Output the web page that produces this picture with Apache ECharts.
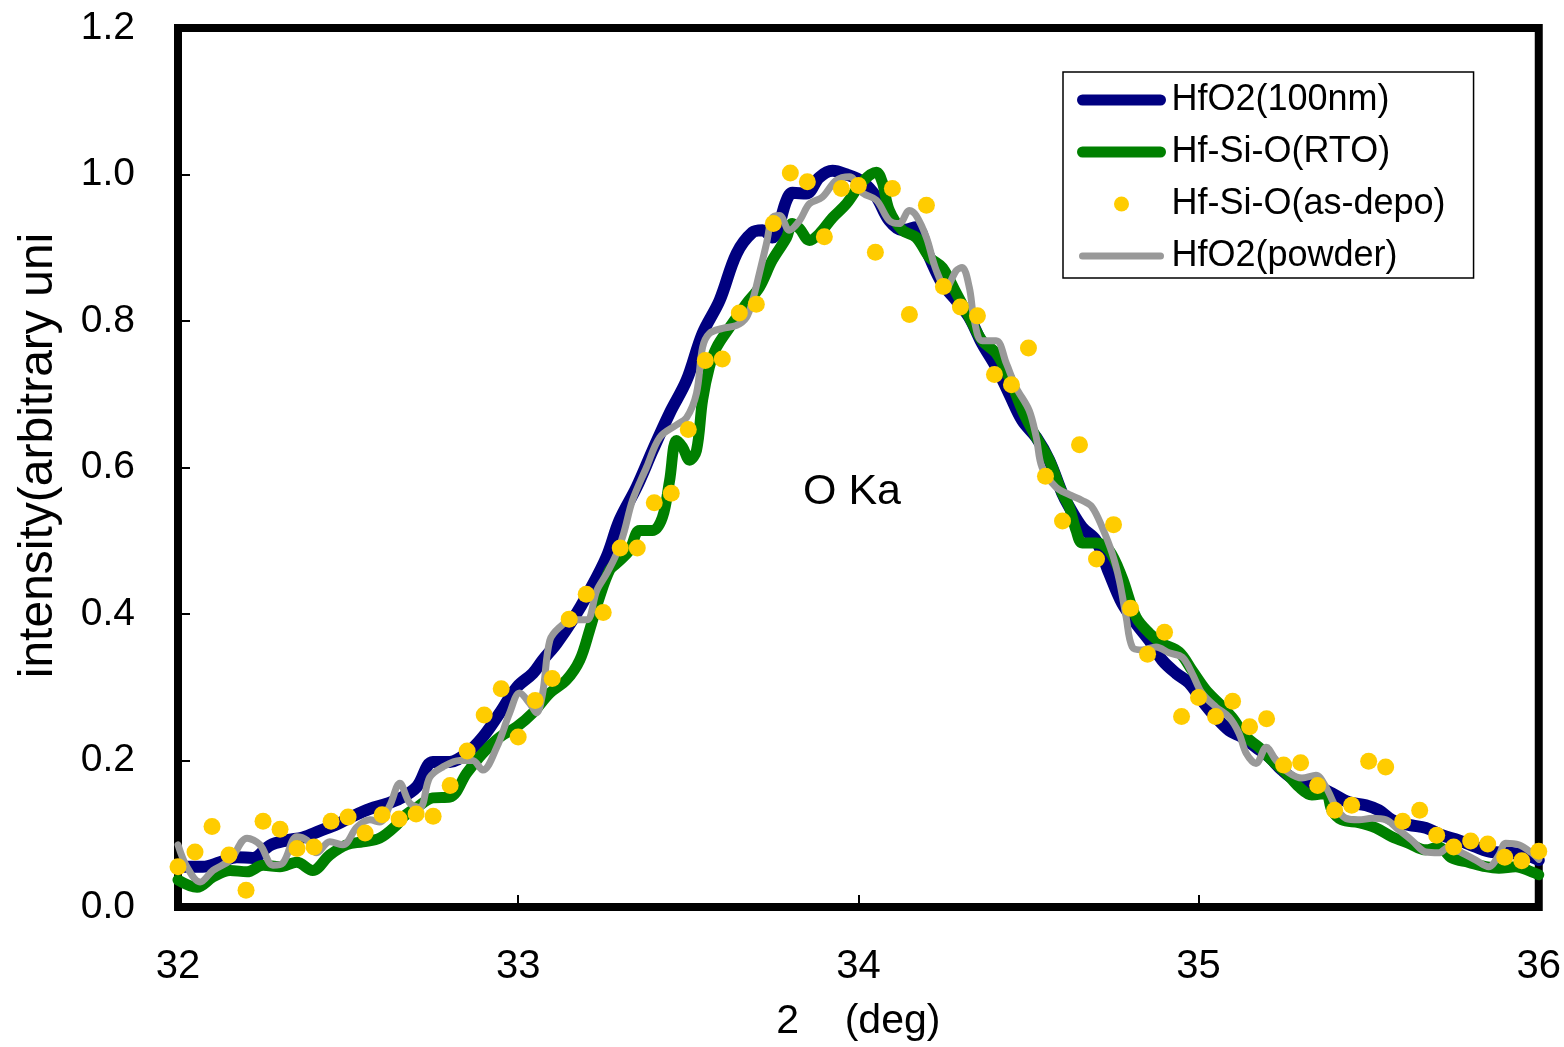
<!DOCTYPE html>
<html>
<head>
<meta charset="utf-8">
<script src="https://cdn.jsdelivr.net/npm/echarts@6/dist/echarts.min.js"></script>
<style>
html,body{margin:0;padding:0;background:#fff;}
#chart{width:1564px;height:1047px;}
</style>
</head>
<body>
<div id="chart"></div>
<script>
// ---- data ----
const seriesNames = ['HfO2(100nm)', 'Hf-Si-O(RTO)', 'Hf-Si-O(as-depo)', 'HfO2(powder)'];

const hfo2Film = [
[32.000,0.055],[32.073,0.055],[32.123,0.061],[32.173,0.068],[32.220,0.067],[32.270,0.084],[32.320,0.091],
[32.367,0.095],[32.417,0.104],[32.467,0.113],[32.514,0.124],[32.564,0.134],[32.614,0.141],[32.652,0.148],
[32.702,0.164],[32.749,0.198],[32.799,0.198],[32.849,0.210],[32.896,0.232],[32.946,0.265],[32.996,0.300],
[33.043,0.319],[33.072,0.337],[33.113,0.360],[33.160,0.392],[33.210,0.432],[33.260,0.478],[33.298,0.528],
[33.348,0.573],[33.395,0.623],[33.445,0.674],[33.495,0.719],[33.542,0.783],[33.592,0.828],[33.642,0.892],
[33.689,0.921],[33.718,0.924],[33.747,0.914],[33.789,0.965],[33.806,0.975],[33.847,0.974],[33.885,0.996],
[33.924,1.005],[33.965,1.000],[34.012,0.990],[34.053,0.969],[34.091,0.937],[34.129,0.924],[34.170,0.928],
[34.209,0.887],[34.247,0.851],[34.288,0.828],[34.326,0.805],[34.364,0.769],[34.405,0.737],[34.443,0.701],
[34.482,0.664],[34.523,0.641],[34.561,0.610],[34.599,0.565],[34.620,0.546],[34.658,0.518],[34.699,0.500],
[34.737,0.456],[34.775,0.415],[34.816,0.387],[34.855,0.364],[34.893,0.337],[34.934,0.319],[34.972,0.306],
[35.010,0.282],[35.051,0.259],[35.090,0.241],[35.128,0.232],[35.169,0.218],[35.207,0.205],[35.245,0.187],
[35.286,0.173],[35.345,0.166],[35.392,0.155],[35.442,0.143],[35.492,0.139],[35.530,0.132],[35.568,0.119],
[35.618,0.112],[35.668,0.108],[35.715,0.098],[35.765,0.091],[35.815,0.082],[35.862,0.075],[35.912,0.074],
[35.962,0.071],[36.000,0.064]
];

const hfSiORto = [
[32.000,0.037],[32.056,0.027],[32.103,0.041],[32.153,0.050],[32.203,0.048],[32.250,0.057],[32.300,0.055],
[32.349,0.061],[32.396,0.050],[32.446,0.071],[32.496,0.085],[32.543,0.089],[32.593,0.094],[32.643,0.112],
[32.665,0.124],[32.702,0.136],[32.749,0.149],[32.799,0.150],[32.849,0.183],[32.896,0.210],[32.946,0.232],
[32.996,0.246],[33.043,0.265],[33.093,0.292],[33.142,0.310],[33.181,0.337],[33.210,0.378],[33.239,0.423],
[33.269,0.460],[33.289,0.469],[33.327,0.487],[33.357,0.514],[33.395,0.514],[33.424,0.532],[33.445,0.582],
[33.465,0.637],[33.483,0.628],[33.504,0.610],[33.524,0.623],[33.542,0.692],[33.562,0.737],[33.583,0.764],
[33.621,0.791],[33.671,0.824],[33.709,0.846],[33.747,0.883],[33.789,0.914],[33.806,0.933],[33.827,0.926],
[33.856,0.910],[33.885,0.919],[33.924,0.941],[33.965,0.960],[34.012,0.990],[34.053,1.003],[34.070,0.990],
[34.091,0.951],[34.129,0.924],[34.170,0.914],[34.209,0.887],[34.247,0.873],[34.288,0.838],[34.326,0.805],
[34.364,0.773],[34.405,0.756],[34.443,0.723],[34.482,0.678],[34.523,0.641],[34.561,0.610],[34.599,0.565],
[34.620,0.546],[34.640,0.514],[34.658,0.497],[34.699,0.497],[34.737,0.487],[34.775,0.450],[34.816,0.396],
[34.855,0.374],[34.893,0.360],[34.943,0.348],[34.981,0.323],[35.022,0.296],[35.060,0.278],[35.098,0.259],
[35.140,0.232],[35.178,0.218],[35.216,0.200],[35.257,0.183],[35.295,0.164],[35.333,0.153],[35.374,0.155],
[35.392,0.132],[35.421,0.119],[35.471,0.115],[35.521,0.108],[35.568,0.096],[35.618,0.087],[35.668,0.078],
[35.706,0.082],[35.744,0.067],[35.794,0.061],[35.844,0.055],[35.883,0.053],[35.932,0.055],[35.979,0.048],
[36.000,0.044]
];

const depoX = [
32.00,32.05,32.10,32.15,32.20,32.25,32.30,32.35,32.40,32.45,32.50,32.55,32.60,32.65,32.70,32.75,32.80,32.85,32.90,32.95,
33.00,33.05,33.10,33.15,33.20,33.25,33.30,33.35,33.40,33.45,33.50,33.55,33.60,33.65,33.70,33.75,33.80,33.85,33.90,33.95,
34.00,34.05,34.10,34.15,34.20,34.25,34.30,34.35,34.40,34.45,34.50,34.55,34.60,34.65,34.70,34.75,34.80,34.85,34.90,34.95,
35.00,35.05,35.10,35.15,35.20,35.25,35.30,35.35,35.40,35.45,35.50,35.55,35.60,35.65,35.70,35.75,35.80,35.85,35.90,35.95,
36.00
];
const depoY = [
0.055,0.075,0.110,0.071,0.023,0.117,0.106,0.080,0.082,0.117,0.123,0.101,0.126,0.120,0.127,0.124,0.166,0.213,0.262,0.298,
0.232,0.282,0.312,0.393,0.427,0.402,0.490,0.490,0.552,0.565,0.652,0.746,0.748,0.811,0.823,0.933,1.002,0.990,0.915,0.981,
0.985,0.894,0.981,0.809,0.958,0.847,0.819,0.807,0.727,0.713,0.763,0.588,0.527,0.631,0.475,0.522,0.408,0.345,0.375,0.260,
0.286,0.260,0.281,0.246,0.257,0.194,0.197,0.166,0.132,0.139,0.199,0.191,0.117,0.132,0.098,0.082,0.090,0.086,0.068,0.063,
0.076
];

const hfo2Powder = [
[32.000,0.085],[32.026,0.055],[32.065,0.034],[32.103,0.050],[32.153,0.064],[32.203,0.094],[32.241,0.085],
[32.279,0.057],[32.308,0.060],[32.349,0.096],[32.379,0.091],[32.408,0.074],[32.446,0.089],[32.485,0.085],
[32.526,0.109],[32.564,0.119],[32.593,0.116],[32.623,0.139],[32.652,0.169],[32.681,0.142],[32.711,0.136],
[32.740,0.177],[32.778,0.191],[32.828,0.200],[32.866,0.200],[32.896,0.187],[32.937,0.218],[32.975,0.265],
[33.004,0.292],[33.034,0.278],[33.054,0.265],[33.072,0.292],[33.093,0.364],[33.122,0.382],[33.160,0.392],
[33.201,0.392],[33.231,0.432],[33.260,0.455],[33.289,0.482],[33.310,0.510],[33.336,0.555],[33.377,0.600],
[33.416,0.641],[33.465,0.658],[33.495,0.668],[33.524,0.701],[33.542,0.764],[33.562,0.783],[33.601,0.790],
[33.642,0.794],[33.671,0.805],[33.689,0.828],[33.709,0.865],[33.730,0.906],[33.747,0.941],[33.768,0.944],
[33.797,0.924],[33.827,0.937],[33.856,0.960],[33.894,0.969],[33.935,0.992],[33.974,0.997],[34.012,0.975],
[34.053,0.965],[34.091,0.937],[34.120,0.933],[34.150,0.951],[34.170,0.944],[34.200,0.914],[34.229,0.869],
[34.258,0.846],[34.288,0.869],[34.305,0.873],[34.326,0.846],[34.341,0.800],[34.364,0.773],[34.405,0.773],
[34.435,0.742],[34.464,0.709],[34.502,0.678],[34.523,0.641],[34.540,0.600],[34.581,0.573],[34.620,0.563],
[34.658,0.555],[34.687,0.546],[34.717,0.518],[34.746,0.483],[34.767,0.446],[34.787,0.396],[34.805,0.355],
[34.834,0.351],[34.875,0.355],[34.913,0.347],[34.952,0.341],[34.981,0.319],[35.010,0.292],[35.051,0.273],
[35.090,0.259],[35.119,0.237],[35.140,0.210],[35.169,0.196],[35.199,0.218],[35.228,0.200],[35.266,0.183],
[35.304,0.176],[35.345,0.180],[35.374,0.164],[35.404,0.136],[35.433,0.121],[35.471,0.119],[35.510,0.121],
[35.551,0.119],[35.589,0.105],[35.627,0.091],[35.668,0.075],[35.706,0.074],[35.736,0.082],[35.774,0.074],
[35.815,0.064],[35.853,0.055],[35.883,0.071],[35.903,0.087],[35.941,0.085],[35.979,0.074],[36.000,0.065]
];

const xTicks = {min: 32, max: 36, interval: 1};
const yTicks = {min: 0, max: 1.2, interval: 0.2};
const annotation = 'O Ka';
const xTitle = '2    (deg)';
const yTitle = 'intensity(arbitrary uni';

// ---- chart ----
const FONT = '"Liberation Sans", Arial, sans-serif';
const chart = echarts.init(document.getElementById('chart'), null, {renderer: 'canvas'});
const depoData = depoX.map((x, i) => [x, depoY[i]]);
const hideSymbol = {opacity: 0};

chart.setOption({
  animation: false,
  backgroundColor: '#ffffff',
  textStyle: {fontFamily: FONT, color: '#000'},
  grid: {left: 178, right: 24, top: 28, bottom: 140, show: true,
         borderColor: '#000', borderWidth: 8, backgroundColor: 'transparent'},
  xAxis: {
    type: 'value', min: xTicks.min, max: xTicks.max, interval: xTicks.interval,
    name: xTitle, nameLocation: 'middle', nameGap: 94,
    nameTextStyle: {fontSize: 41, color: '#000', fontFamily: FONT},
    axisLine: {show: false},
    axisTick: {show: true, inside: true, length: 12, lineStyle: {color: '#000', width: 2}},
    axisLabel: {fontSize: 40, color: '#000', margin: 40, fontFamily: FONT},
    splitLine: {show: false}
  },
  yAxis: {
    type: 'value', min: yTicks.min, max: yTicks.max, interval: yTicks.interval,
    name: yTitle, nameLocation: 'middle', nameGap: 115, nameRotate: 90,
    nameTextStyle: {fontSize: 48, color: '#000', fontFamily: FONT, padding: [0, 0, 0, 24]},
    axisLine: {show: false},
    axisTick: {show: true, inside: true, length: 12, lineStyle: {color: '#000', width: 2}},
    axisLabel: {fontSize: 39, color: '#000', margin: 43, fontFamily: FONT,
                formatter: v => v.toFixed(1)},
    splitLine: {show: false}
  },
  legend: {
    orient: 'vertical', left: 1063, top: 72,
    padding: [10, 28, 4, 14], itemGap: 16, itemWidth: 78, itemHeight: 15,
    backgroundColor: '#fff', borderColor: '#000', borderWidth: 1.5,
    textStyle: {fontSize: 36, lineHeight: 36, color: '#000', fontFamily: FONT, padding: [0, 0, 0, 6]},
    data: [
      {name: seriesNames[0], itemStyle: hideSymbol, lineStyle: {width: 11, color: '#000080', cap: 'round'}},
      {name: seriesNames[1], itemStyle: hideSymbol, lineStyle: {width: 11, color: '#008000', cap: 'round'}},
      {name: seriesNames[2], icon: 'circle'},
      {name: seriesNames[3], itemStyle: hideSymbol, lineStyle: {width: 7, color: '#999999', cap: 'round'}}
    ]
  },
  graphic: [
    {type: 'text', left: 803, top: 471, z: 10,
     style: {text: annotation, fontSize: 43, fill: '#000', fontFamily: FONT}}
  ],
  series: [
    {name: seriesNames[0], type: 'line', data: hfo2Film, smooth: 0.35, symbol: 'none',
     clip: false, z: 2, lineStyle: {color: '#000080', width: 12, cap: 'round', join: 'round'},
     itemStyle: {color: '#000080'}},
    {name: seriesNames[1], type: 'line', data: hfSiORto, smooth: 0.35, symbol: 'none',
     clip: false, z: 3, lineStyle: {color: '#008000', width: 11, cap: 'round', join: 'round'},
     itemStyle: {color: '#008000'}},
    {name: seriesNames[2], type: 'scatter', data: depoData, symbol: 'circle', symbolSize: 17,
     clip: false, z: 5, itemStyle: {color: '#FFCC00', opacity: 1}},
    {name: seriesNames[3], type: 'line', data: hfo2Powder, smooth: 0.35, symbol: 'none',
     clip: false, z: 4, lineStyle: {color: '#999999', width: 7, cap: 'round', join: 'round'},
     itemStyle: {color: '#999999'}}
  ]
});
</script>
</body>
</html>
